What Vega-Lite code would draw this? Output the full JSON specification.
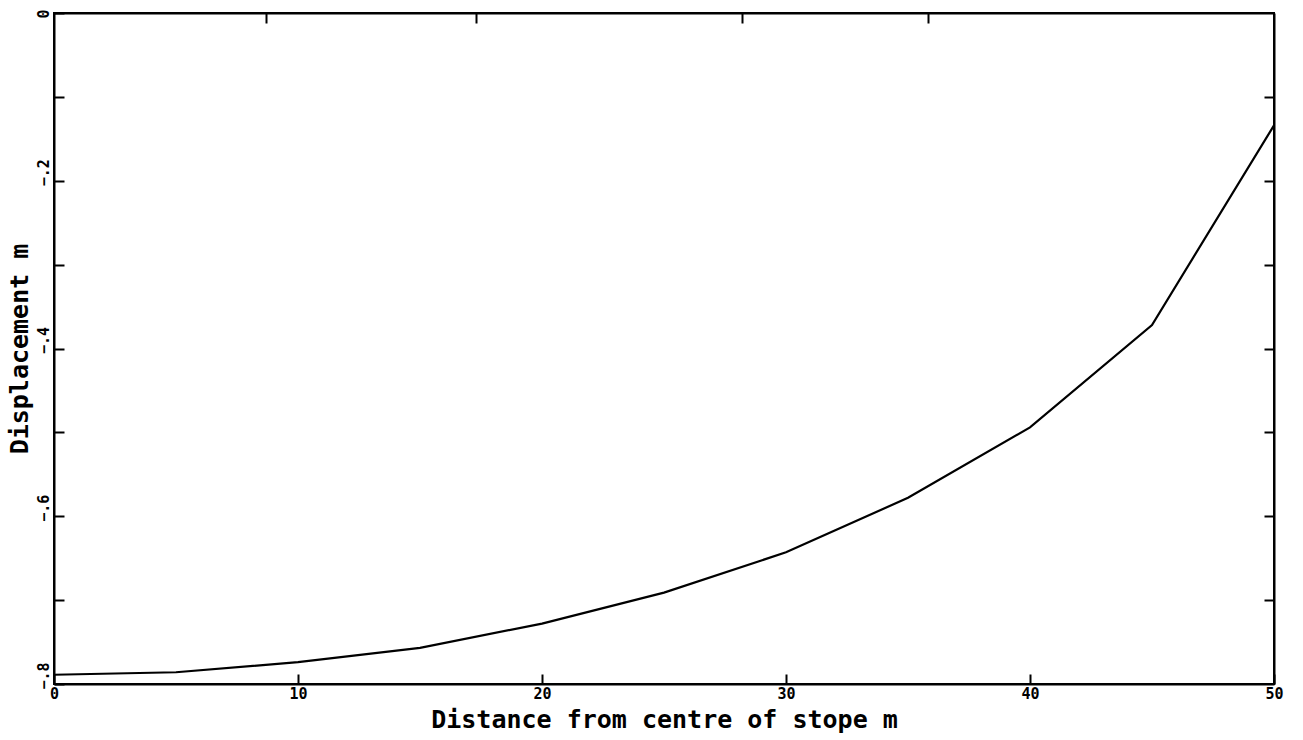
{
  "$schema": "https://vega.github.io/schema/vega-lite/v6.json",
  "width": 1220,
  "height": 671,
  "autosize": {"type": "none"},
  "padding": {"left": 54, "top": 13, "right": 29, "bottom": 56},
  "background": "white",
  "config": {
    "view": {"stroke": "black", "strokeWidth": 2},
    "font": "DejaVu Sans Mono",
    "axis": {
      "grid": false,
      "domainColor": "black",
      "domainWidth": 2,
      "tickColor": "black",
      "tickWidth": 2,
      "labelColor": "black",
      "labelFont": "DejaVu Sans Mono",
      "labelFontWeight": "bold",
      "labelFontSize": 15,
      "labelFlush": false,
      "titleColor": "black",
      "titleFont": "DejaVu Sans Mono",
      "titleFontWeight": "bold",
      "titleFontSize": 25
    }
  },
  "data": {
    "values": [
      {"distance": 0, "displacement": -0.789},
      {"distance": 5, "displacement": -0.786},
      {"distance": 10, "displacement": -0.774},
      {"distance": 15, "displacement": -0.757},
      {"distance": 20, "displacement": -0.728},
      {"distance": 25, "displacement": -0.691},
      {"distance": 30, "displacement": -0.643},
      {"distance": 35, "displacement": -0.578},
      {"distance": 40, "displacement": -0.494},
      {"distance": 45, "displacement": -0.372},
      {"distance": 50, "displacement": -0.134}
    ]
  },
  "layer": [
    {
      "mark": {"type": "line", "color": "black", "strokeWidth": 2.2},
      "encoding": {
        "x": {
          "field": "distance",
          "type": "quantitative",
          "scale": {"domain": [0, 50], "nice": false, "zero": false},
          "axis": {
            "orient": "bottom",
            "title": "Distance from centre of stope m",
            "values": [0, 10, 20, 30, 40, 50],
            "format": "d",
            "tickSize": -10,
            "labelPadding": 12,
            "titlePadding": 6
          }
        },
        "y": {
          "field": "displacement",
          "type": "quantitative",
          "scale": {"domain": [-0.8, 0], "nice": false, "zero": false},
          "axis": {
            "orient": "left",
            "title": "Displacement m",
            "values": [0, -0.1, -0.2, -0.3, -0.4, -0.5, -0.6, -0.7, -0.8],
            "labelExpr": "round(abs(datum.value) * 10) % 2 == 1 ? '' : (datum.value == 0 ? '0' : replace(format(datum.value, '.1f'), '0.', '.'))",
            "labelAngle": 270,
            "labelAlign": "left",
            "labelBaseline": "middle",
            "labelOffset": 5,
            "tickSize": -10,
            "labelPadding": 21,
            "titlePadding": 4
          }
        }
      }
    },
    {
      "mark": {"type": "line", "opacity": 0},
      "encoding": {
        "x": {
          "field": "distance",
          "type": "quantitative",
          "scale": {"domain": [0, 50], "nice": false, "zero": false},
          "axis": {
            "orient": "top",
            "title": null,
            "values": [8.7, 17.3, 28.2, 35.8],
            "labels": false,
            "tickSize": -10
          }
        },
        "y": {
          "field": "displacement",
          "type": "quantitative",
          "scale": {"domain": [-0.8, 0], "nice": false, "zero": false},
          "axis": {
            "orient": "right",
            "title": null,
            "values": [-0.1, -0.2, -0.3, -0.4, -0.5, -0.6, -0.7],
            "labels": false,
            "tickSize": -10
          }
        }
      }
    }
  ],
  "resolve": {"axis": {"x": "independent", "y": "independent"}}
}
